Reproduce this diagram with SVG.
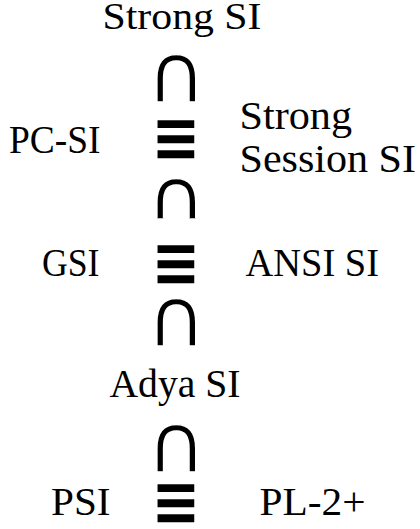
<svg xmlns="http://www.w3.org/2000/svg" width="420" height="529" viewBox="0 0 420 529">
<style>
.lbl{font-family:"Liberation Serif","Times New Roman",serif;font-size:40px;fill:#000}
.sub{font-family:"DejaVu Sans",sans-serif;font-size:82px;fill:#000;stroke:#fff;stroke-width:1.6px;text-anchor:middle}
.eq{font-family:"DejaVu Sans",sans-serif;font-weight:bold;font-size:69px;fill:#000;text-anchor:middle}
</style>
<defs>
<clipPath id="clip2"><rect x="140" y="170" width="80" height="48.3"/></clipPath>
</defs>
<rect width="420" height="529" fill="#fff"/>
<g id="strong-si"><text class="lbl" x="102.5" y="29" style="font-size:38px" textLength="159" lengthAdjust="spacingAndGlyphs">Strong SI</text></g>
<g id="pc-si"><text class="lbl" x="9" y="152.7" textLength="91.5" lengthAdjust="spacingAndGlyphs">PC-SI</text></g>
<g id="strong-session-si">
<text class="lbl" x="239.5" y="129.3" textLength="112.5" lengthAdjust="spacingAndGlyphs">Strong</text>
<text class="lbl" x="239.5" y="171.7" textLength="176.5" lengthAdjust="spacingAndGlyphs">Session SI</text>
</g>
<g id="gsi"><text class="lbl" x="42" y="276" textLength="57.5" lengthAdjust="spacingAndGlyphs">GSI</text></g>
<g id="ansi-si"><text class="lbl" x="245.5" y="276" textLength="133.5" lengthAdjust="spacingAndGlyphs">ANSI SI</text></g>
<g id="adya-si"><text class="lbl" x="109.5" y="397.3" textLength="131" lengthAdjust="spacingAndGlyphs">Adya SI</text></g>
<g id="psi"><text class="lbl" x="51" y="515" textLength="59.5" lengthAdjust="spacingAndGlyphs">PSI</text></g>
<g id="pl-2plus"><text class="lbl" x="259.5" y="515" textLength="106" lengthAdjust="spacingAndGlyphs">PL-2+</text></g>
<g id="connectors">
<text class="sub" transform="translate(176,102.3)">∩</text>
<text class="eq" transform="translate(176,161) scale(0.85,1)">≡</text>
<g clip-path="url(#clip2)"><text class="sub" transform="translate(176,225.5)">∩</text></g>
<text class="eq" transform="translate(176,286) scale(0.85,1)">≡</text>
<text class="sub" transform="translate(176,345.8)">∩</text>
<text class="sub" transform="translate(176,471.5)">∩</text>
<text class="eq" transform="translate(176,525) scale(0.85,1)">≡</text>
</g>
</svg>
